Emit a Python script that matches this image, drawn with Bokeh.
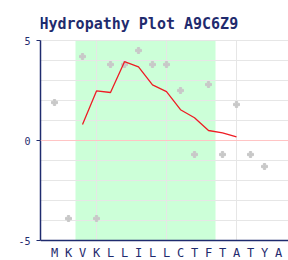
from bokeh.plotting import figure
from bokeh.models import FixedTicker, BoxAnnotation, Span, Range1d, LabelSet, Label, ColumnDataSource
from bokeh.core.properties import value
from bokeh.embed import file_html
from bokeh.resources import INLINE

title = "Hydropathy Plot A9C6Z9"
residues = ["M", "K", "V", "K", "L", "L", "I", "L", "L", "C", "T", "F", "T", "A", "T", "Y", "A"]
positions = list(range(1, len(residues) + 1))
point_pos = [1, 2, 3, 4, 5, 6, 7, 8, 9, 10, 11, 12, 13, 14, 15, 16]
point_scores = [1.9, -3.9, 4.2, -3.9, 3.8, 3.8, 4.5, 3.8, 3.8, 2.5, -0.7, 2.8, -0.7, 1.8, -0.7, -1.3]
window_pos = [3, 4, 5, 6, 7, 8, 9, 10, 11, 12, 13, 14]
window_scores = [0.8, 2.48, 2.4, 3.94, 3.68, 2.78, 2.44, 1.54, 1.14, 0.5, 0.38, 0.18]
region_start, region_end = 2.5, 12.5
grid_x = [4, 9, 14]
y_ticks = [-5, 0, 5]
y_min, y_max = -5, 5

NAVY = "#1f2b6e"
GRID = "#e6e6e6"
FONT = "DejaVu Sans Mono"

# frame covers the window right of the y axis; 14 px per residue, 20 px per unit
p = figure(width=288, height=260, output_backend="svg", toolbar_location=None,
           x_axis_location=None,
           x_range=Range1d(0, 248 / 14), y_range=Range1d(y_min - 1, y_max + 2),
           min_border_left=40, min_border_right=0, min_border_top=0, min_border_bottom=0)
p.outline_line_color = None
p.background_fill_color = "white"
p.xgrid.visible = False

band = BoxAnnotation(left=region_start, right=region_end, bottom=y_min, top=y_max,
                     fill_color="#ccffd8", fill_alpha=1.0, line_color=None, level="image")
p.add_layout(band)

p.ygrid.ticker = FixedTicker(ticks=list(range(y_min, y_max + 1)))
p.ygrid.grid_line_color = GRID
p.ygrid.grid_line_width = 1

p.segment(x0=grid_x, y0=[y_min] * len(grid_x), x1=grid_x, y1=[y_max] * len(grid_x),
          line_color=GRID, line_width=1)

zero = Span(location=0, dimension="width", line_color="#ffc4c4", line_width=1.2)
p.add_layout(zero)

p.scatter(point_pos, point_scores, marker="plus", size=6, fill_color="#c8c8c8", line_color="#c8c8c8")
p.line(window_pos, window_scores, line_color="#ee1c24", line_width=1.3)

# bottom axis line
p.add_layout(Span(location=y_min, dimension="width", line_color=NAVY, line_width=1.5))

p.yaxis.ticker = FixedTicker(ticks=y_ticks)
p.yaxis.bounds = (y_min, y_max)
p.yaxis.major_label_overrides = {-5: "-5", 0: "0", 5: "5"}
p.yaxis.axis_line_color = NAVY
p.yaxis.axis_line_width = 1.5
p.yaxis.major_tick_line_color = NAVY
p.yaxis.major_tick_out = 4
p.yaxis.major_tick_in = 0
p.yaxis.minor_tick_line_color = None
p.yaxis.major_label_text_font = FONT
p.yaxis.major_label_text_font_size = "10px"
p.yaxis.major_label_text_color = NAVY
p.yaxis.major_label_standoff = 6

label_src = ColumnDataSource(dict(x=positions, y=[y_min] * len(positions), t=residues))
labels = LabelSet(x="x", y="y", text="t", source=label_src, y_offset=-12,
                  text_align="center", text_baseline="middle",
                  text_font=value(FONT), text_font_size=value("12px"), text_color=value(NAVY))
p.add_layout(labels)

p.add_layout(Label(x=0, y=y_max + 2, text=title, x_offset=-1, y_offset=-23,
                   text_align="left", text_baseline="alphabetic",
                   text_font=FONT, text_font_size="15px",
                   text_font_style="bold", text_color=NAVY))

open("out.html", "w").write(file_html(p, INLINE))
